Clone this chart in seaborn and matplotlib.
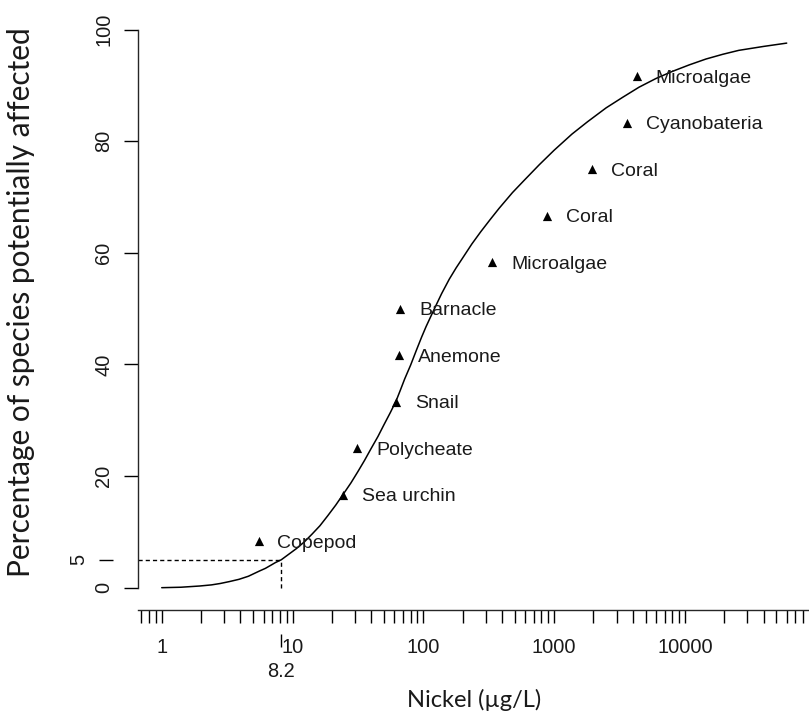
import numpy as np
import pandas as pd
import matplotlib
matplotlib.use("Agg")
import matplotlib.pyplot as plt
import seaborn as sns
from matplotlib.ticker import LogLocator, NullFormatter, NullLocator

# ---------------- data ----------------
species = ["Copepod", "Sea urchin", "Polycheate", "Snail", "Anemone", "Barnacle",
           "Microalgae", "Coral", "Coral", "Cyanobateria", "Microalgae"]
nickel = [5.5, 24.5, 31.2, 62, 65.6, 66.5, 336, 885, 1950, 3610, 4280]
pct_affected = [8.33, 16.67, 25.0, 33.33, 41.67, 50.0, 58.33, 66.67, 75.0, 83.33, 91.67]

# fitted species-sensitivity curve
curve_nickel = [1, 1.4, 1.95, 2.4, 2.8, 3.3, 3.9, 4.6, 5.6, 6.2, 6.8, 7.4, 8.2, 10.7,
                12.3, 14.1, 16.2, 18.6, 21.4, 24.5, 28, 31.6, 35.5, 39.8, 45, 50, 56,
                62, 67, 72, 80, 89, 97, 105, 121, 138, 158, 178, 200, 235, 275, 325,
                380, 480, 590, 770, 1000, 1370, 1800, 2500, 3350, 4460, 6000, 7960,
                10800, 14500, 19500, 25800, 39800, 60000]
curve_pct = [0.0, 0.08, 0.3, 0.5, 0.75, 1.1, 1.5, 2.05, 3.0, 3.46, 4.0, 4.5, 5.0, 7.0,
             8.2, 9.6, 11.1, 12.9, 14.8, 16.8, 18.8, 20.8, 22.8, 24.9, 27.1, 29.2,
             31.4, 33.5, 35.5, 37.4, 39.9, 42.7, 44.9, 46.8, 49.9, 52.7, 55.3, 57.3,
             59.1, 61.6, 63.8, 66.0, 68.0, 70.8, 73.0, 75.8, 78.4, 81.3, 83.5, 86.0,
             87.9, 89.7, 91.25, 92.5, 93.7, 94.75, 95.6, 96.3, 97.0, 97.6]

hc5_value = 8.2
hc5_pct = 5
hc5_label = "8.2"

x_major = [1, 10, 100, 1000, 10000]
x_major_labels = ["1", "10", "100", "1000", "10000"]
y_major = [0, 20, 40, 60, 80, 100]

# ---------------- styling ----------------
sns.set_theme(style="ticks")
plt.rcParams["font.family"] = ["Liberation Sans", "DejaVu Sans"]
plt.rcParams["axes.linewidth"] = 1.0

W, H = 809, 718
fig = plt.figure(figsize=(W / 100, H / 100), dpi=100)
fig.patch.set_facecolor("white")

ax_left_px, ax_right_px = 138.3, 815.7
ax_top_px, ax_bottom_px = 7.4, 610.0
ax = fig.add_axes([ax_left_px / W, 1 - ax_bottom_px / H,
                   (ax_right_px - ax_left_px) / W, (ax_bottom_px - ax_top_px) / H])
ax.set_facecolor("white")

curve_df = pd.DataFrame({"nickel": curve_nickel, "pct": curve_pct})
pts_df = pd.DataFrame({"nickel": nickel, "pct": pct_affected, "species": species})

sns.lineplot(data=curve_df, x="nickel", y="pct", ax=ax, color="black",
             linewidth=1.1, estimator=None, sort=True)
sns.scatterplot(data=pts_df, x="nickel", y="pct", ax=ax, marker="^", s=44,
                color="black", edgecolor="black", linewidth=0, zorder=3)

ax.set_xscale("log")
ax.set_xlim(0.662, 1e5)
ax.set_ylim(-4, 104)

# HC5 guide lines
x_left = ax.get_xlim()[0]
ax.hlines(hc5_pct, x_left, hc5_value, colors="black", linewidth=1.0,
          linestyles=(0, (3, 2.2)))
ax.vlines(hc5_value, 0, hc5_pct, colors="black", linewidth=1.0,
          linestyles=(0, (3, 2.2)))

# species labels
for sp, xv, yv in zip(species, nickel, pct_affected):
    ax.annotate(sp, xy=(xv, yv), xytext=(13.5, 0), textcoords="offset points",
                ha="left", va="center_baseline", fontsize=14, color="#1a1a1a")

# axes / ticks
for s in ["top", "right"]:
    ax.spines[s].set_visible(False)
ax.spines["left"].set_bounds(0, 100)

tick_len = 10.0
ax.set_yticks(y_major)
ax.set_yticklabels([str(v) for v in y_major])
ax.tick_params(axis="y", labelrotation=90, length=tick_len, width=1.0,
               pad=8, labelsize=14.4, colors="black", labelcolor="#1a1a1a")
for lbl in ax.get_yticklabels():
    lbl.set_va("center")

ax.set_xticks(x_major)
ax.set_xticklabels(x_major_labels)
ax.xaxis.set_minor_locator(LogLocator(base=10, subs=np.arange(2, 10)))
ax.xaxis.set_minor_formatter(NullFormatter())
ax.tick_params(axis="x", which="both", length=tick_len - 0.6, width=1.0,
               pad=11, labelsize=14.4, colors="black", labelcolor="#1a1a1a")
ax.set_xlabel("")
ax.set_ylabel("")

ax_w = ax_right_px - ax_left_px
ax_h = ax_bottom_px - ax_top_px

# extra axis for the HC5 percentage (5) on the left
sec_y = ax.secondary_yaxis(-25 / ax_w)
sec_y.set_yticks([hc5_pct])
sec_y.set_yticklabels([str(hc5_pct)])
sec_y.spines["left"].set_visible(False)
sec_y.tick_params(axis="y", labelrotation=90, length=tick_len, width=1.0,
                  pad=8, labelsize=14.4, colors="black", labelcolor="#1a1a1a")
for lbl in sec_y.get_yticklabels():
    lbl.set_va("center")

# extra axis for the HC5 concentration (8.2) below
sec_x = ax.secondary_xaxis(-24 / ax_h)
sec_x.set_xticks([hc5_value])
sec_x.set_xticklabels([hc5_label])
sec_x.xaxis.set_minor_locator(NullLocator())
sec_x.spines["bottom"].set_visible(False)
sec_x.tick_params(axis="x", length=tick_len - 0.6, width=1.0, pad=11,
                  labelsize=14.4, colors="black", labelcolor="#1a1a1a")

# axis titles
fig.text(474 / W, 1 - 700 / H, "Nickel (µg/L)", ha="center", va="center",
         fontsize=17, family=["Lato", "DejaVu Sans"], color="#1a1a1a")
fig.text(21 / W, 1 - 302 / H, "Percentage of species potentially affected",
         rotation=90, ha="center", va="center", fontsize=21.5,
         family=["Lato", "DejaVu Sans"], color="#1a1a1a")

fig.savefig("out.png", dpi=100, facecolor="white")
